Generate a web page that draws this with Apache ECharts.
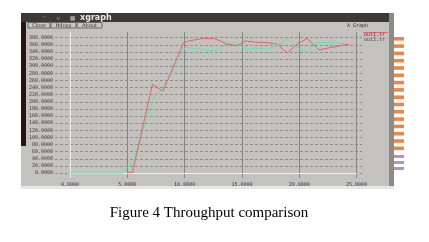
<!DOCTYPE html>
<html><head><meta charset="utf-8">
<script src="https://cdn.jsdelivr.net/npm/echarts@6/dist/echarts.min.js"></script>
<style>html,body{margin:0;padding:0;background:#fff}#c{width:429px;height:242px}</style>
</head><body><div id="c"></div>
<script>
// ---- data ----
const seriesNames = ['out1.tr', 'out2.tr'];
const redX = [5.0, 5.45, 7.19, 8.10, 9.90, 10.34, 11.65, 12.52, 13.1, 13.7, 14.57, 15.3, 16.17, 17.05, 18.07, 18.94, 19.82, 20.69, 21.7, 22.88, 24.33];
const redY = [2, 2, 249, 230, 365, 371, 378, 378, 371, 362, 357, 371, 367, 367, 362, 337, 362, 378, 346, 353, 362];
const greenX = [0, 4.6, 5.53, 6.27, 7.14, 8.16, 8.89, 10.05, 12.24, 13.1, 13.55, 14.57, 15.45, 16.17, 17.2, 18.2, 18.94, 19.82, 20.69, 21.56, 22.88, 24.33];
const greenY = [0, 0, 34, 112, 202, 240, 282, 353, 343, 348, 362, 362, 348, 351, 348, 359, 378, 353, 339, 367, 367, 360];
const yTickMin = 0, yTickMax = 380, yTickStep = 20;
const xTickMin = 0, xTickMax = 25, xTickStep = 5;
const titleText = 'Figure 4 Throughput comparison';

const chart = echarts.init(document.getElementById('c'), null, {renderer: 'canvas'});
const lblFont = {fontFamily: 'DejaVu Sans Mono', fontSize: 5, color: '#3a3a3a'};

// decorative window chrome
const g = [];
g.push({type: 'rect', z: -10, shape: {x: 21, y: 13, width: 373, height: 174}, style: {fill: '#c3c2bf'}});
g.push({type: 'rect', z: -9, shape: {x: 21, y: 13, width: 373, height: 9}, style: {fill: '#3b3a37'}});
g.push({type: 'rect', z: -9, shape: {x: 21, y: 22, width: 5, height: 124}, style: {fill: '#2a1412'}});
g.push({type: 'rect', z: -9, shape: {x: 389, y: 13, width: 5, height: 174}, style: {fill: '#8d8b84'}});
g.push({type: 'rect', z: -9, shape: {x: 21, y: 186, width: 373, height: 3}, style: {fill: '#e6e6e6'}});
g.push({type: 'text', style: {x: 42, y: 18, text: '^     v     ■', font: '6px DejaVu Sans', fill: '#9a9a9a', verticalAlign: 'middle'}});
g.push({type: 'text', style: {x: 80, y: 18, text: 'xgraph', font: 'bold 8px DejaVu Sans', fill: '#e8e8e8', verticalAlign: 'middle'}});
const btns = [['Close', 28, 22], ['Hdcpy', 51, 25], ['About', 77, 25]];
btns.forEach(b => {
  g.push({type: 'rect', shape: {x: b[1], y: 22.5, width: b[2], height: 5.5}, style: {fill: '#c8c7c4', stroke: '#505050', lineWidth: 0.8}});
  g.push({type: 'text', style: {x: b[1] + b[2] / 2, y: 25.3, text: b[0], font: '5px DejaVu Sans', fill: '#303030', align: 'center', verticalAlign: 'middle'}});
});
g.push({type: 'text', style: {x: 347, y: 26, text: 'X Graph', font: '5px DejaVu Sans Mono', fill: '#303030', verticalAlign: 'middle'}});
g.push({type: 'line', shape: {x1: 363, y1: 32.5, x2: 388, y2: 32.5}, style: {stroke: '#e8606a', lineWidth: 1}});
g.push({type: 'text', style: {x: 364, y: 34.8, text: seriesNames[0], font: '5px DejaVu Sans Mono', fill: '#404040', verticalAlign: 'middle'}});
g.push({type: 'line', shape: {x1: 363, y1: 37.5, x2: 388, y2: 37.5}, style: {stroke: '#5ee6a0', lineWidth: 1}});
g.push({type: 'text', style: {x: 364, y: 39.6, text: seriesNames[1], font: '5px DejaVu Sans Mono', fill: '#404040', verticalAlign: 'middle'}});
for (let i = 0; i < 16; i++) {
  const yy = 37 + i * 7.3;
  g.push({type: 'rect', z: -9, shape: {x: 394, y: yy, width: 10, height: 3.6}, style: {fill: '#e8874a'}});
}
for (let i = 0; i < 3; i++) {
  g.push({type: 'rect', z: -8, shape: {x: 394, y: 155 + i * 6, width: 10, height: 3}, style: {fill: '#a898c8'}});
}
g.push({type: 'text', style: {x: 209, y: 213, text: titleText, font: '15px "Liberation Serif"', fill: '#000', align: 'center', verticalAlign: 'middle'}});

const option = {
  animation: false,
  backgroundColor: '#ffffff',
  graphic: g,
  grid: [
    {left: 55, top: 37.7, width: 307, height: 135.3},
    {left: 70, top: 32, width: 286.6, height: 146}
  ],
  xAxis: [
    {gridIndex: 0, type: 'value', min: 0, max: 1, show: false},
    {gridIndex: 1, type: 'value', min: xTickMin, max: xTickMax, interval: xTickStep,
      axisLine: {onZero: true, lineStyle: {color: '#eeeeee', width: 1}},
      axisTick: {show: false},
      axisLabel: Object.assign({margin: 4, formatter: v => v.toFixed(4)}, lblFont),
      splitLine: {show: true, lineStyle: {color: ['#eeeeee', '#858585', '#858585', '#858585', '#858585', '#858585'], width: 1}}}
  ],
  yAxis: [
    {gridIndex: 0, type: 'value', min: yTickMin, max: yTickMax, interval: yTickStep,
      axisLine: {show: false}, axisTick: {show: false},
      axisLabel: Object.assign({margin: 2, formatter: v => v.toFixed(4)}, lblFont),
      splitLine: {show: true, lineStyle: {color: '#8e8e8e', type: [3, 2], width: 1}}},
    {gridIndex: 1, type: 'value', min: -14, max: 396, show: true,
      axisLine: {onZero: true, lineStyle: {color: '#eeeeee', width: 1}},
      axisTick: {show: false}, axisLabel: {show: false}, splitLine: {show: false}}
  ],
  series: [
    {name: seriesNames[1], type: 'line', xAxisIndex: 1, yAxisIndex: 1, showSymbol: false,
      lineStyle: {color: '#5ee6a0', width: 1}, data: greenX.map((x, i) => [x, greenY[i]])},
    {name: seriesNames[0], type: 'line', xAxisIndex: 1, yAxisIndex: 1, showSymbol: false,
      lineStyle: {color: '#e8606a', width: 1}, data: redX.map((x, i) => [x, redY[i]])}
  ]
};
chart.setOption(option);
</script></body></html>
